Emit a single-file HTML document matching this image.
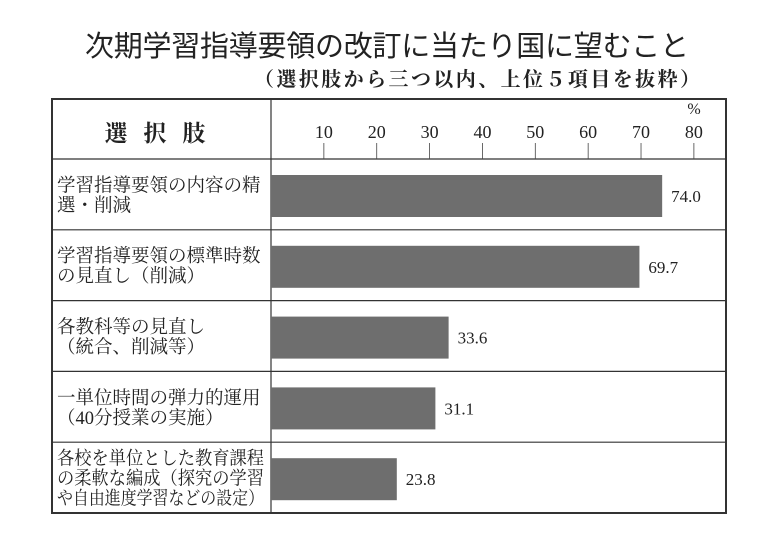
<!DOCTYPE html>
<html><head><meta charset="utf-8"><style>
body{margin:0;background:#fff;width:780px;height:540px;overflow:hidden}
svg{display:block}
.t{font-family:"Liberation Sans","Noto Sans CJK JP",sans-serif}
.s{font-family:"Liberation Serif","Noto Serif CJK SC",serif}
</style></head><body>
<svg id="chart" width="780" height="540">
<text class="t" x="387" y="56" text-anchor="middle" font-size="29" fill="#222" textLength="604">次期学習指導要領の改訂に当たり国に望むこと</text>
<text class="s" x="700" y="86" text-anchor="end" font-size="20" font-weight="bold" fill="#222" textLength="446">（選択肢から三つ以内、上位５項目を抜粋）</text>
<rect x="52" y="99" width="674" height="414" fill="none" stroke="#333" stroke-width="2"/>
<line x1="271" y1="99" x2="271" y2="513" stroke="#333" stroke-width="1.2"/>
<text class="s" x="163" y="141" text-anchor="middle" font-size="23" font-weight="bold" fill="#222" letter-spacing="16">選択肢</text>
<text class="s" x="694" y="114" text-anchor="middle" font-size="16" fill="#222">%</text>
<g id="axis"></g><g id="rows"></g>
</svg>
<script>
const categories=[["学習指導要領の内容の精","選・削減"],["学習指導要領の標準時数","の見直し（削減）"],["各教科等の見直し","（統合、削減等）"],["一単位時間の弾力的運用","（40分授業の実施）"],["各校を単位とした教育課程","の柔軟な編成（探究の学習","や自由進度学習などの設定）"]];
const values=[74.0,69.7,33.6,31.1,23.8];
const valueLabels=["74.0","69.7","33.6","31.1","23.8"];
const ticks=[10,20,30,40,50,60,70,80];
const NS="http://www.w3.org/2000/svg";
const x0=271,pxPer=5.286,rowTop=159,rowH=70.8;
const xs=v=>x0+v*pxPer;
function mk(tag,attrs,parent,txt){const e=document.createElementNS(NS,tag);for(const k in attrs)e.setAttribute(k,attrs[k]);if(txt!=null)e.textContent=txt;parent.appendChild(e);return e;}
const axis=document.getElementById('axis'),rows=document.getElementById('rows');
mk('line',{x1:52,y1:rowTop,x2:726,y2:rowTop,stroke:'#333','stroke-width':1.2},axis);
ticks.forEach(t=>{
 const l=mk('line',{x1:xs(t),y1:143,x2:xs(t),y2:rowTop,stroke:'#444','stroke-width':0.8},axis);
 
 
 const tx=mk('text',{x:xs(t),y:138,'text-anchor':'middle','font-size':18,fill:'#222',class:'s'},axis,String(t));
 
 
});
categories.forEach((c,i)=>{
 const y=rowTop+i*rowH;
 if(i>0){const l=mk('line',{x1:52,y1:y,x2:726,y2:y,stroke:'#333','stroke-width':1.2},rows);
  
  }
 const n=c.length,lh=20,start=y+rowH/2-(n-1)*lh/2+7;
 c.forEach((line,j)=>{
  const t=mk('text',{x:57,y:start+j*lh,'font-size':18.5,fill:'#222',class:'s'},rows,line);
  
  
  const w=t.getComputedTextLength();
  if(w>207){t.setAttribute('textLength',207);t.setAttribute('lengthAdjust','spacingAndGlyphs');}
 });
 const b=mk('rect',{x:x0,y:y+16,width:xs(values[i])-x0,height:42,fill:'#6e6e6e'},rows);
 
 
 const v=mk('text',{x:xs(values[i])+9,y:y+43,'font-size':17,fill:'#222',class:'s'},rows,valueLabels[i]);
 
 
});
</script>
</body></html>
